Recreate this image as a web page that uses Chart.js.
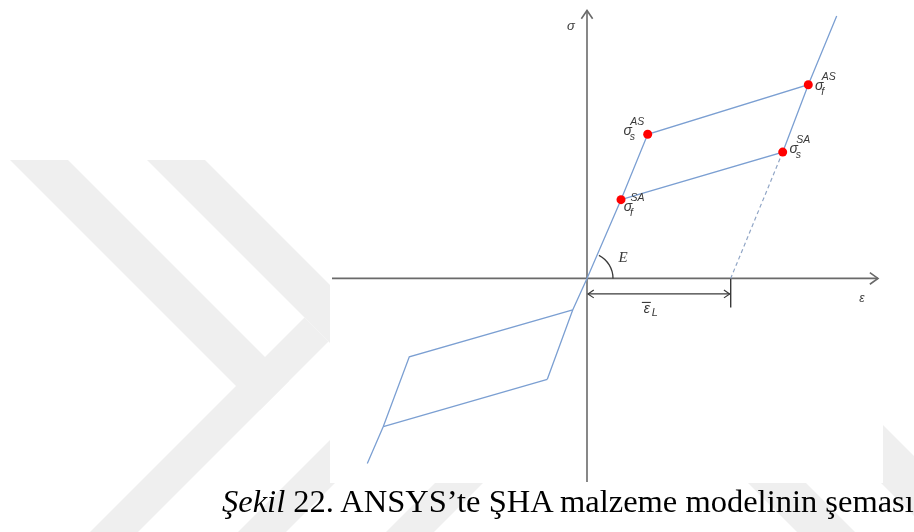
<!DOCTYPE html>
<html>
<head>
<meta charset="utf-8">
<script src="https://cdn.jsdelivr.net/npm/chart.js@4.4.1/dist/chart.umd.min.js"></script>
<style>
  html, body { margin: 0; padding: 0; background: #fff; }
  #wrap { position: relative; width: 914px; height: 532px; overflow: hidden; }
  #scheme { position: absolute; left: 0; top: 0; }
  .caption {
    position: absolute; left: 222px; top: 485px;
    font: 32.5px/32px "Liberation Serif", "Times New Roman", serif;
    color: #000; white-space: nowrap;
  }
</style>
</head>
<body>
<div id="wrap">
  <canvas id="scheme" width="914" height="532"></canvas>
  <div class="caption"><i>Şekil</i> 22. ANSYS’te ŞHA malzeme modelinin şeması</div>
</div>
<script>
// Stress-strain scheme of the SMA material model (strain, stress in arbitrary units)

// elastic branch through the origin, forward transformation plateau, elastic martensite
const loadX = [-3.97, -1.43, 0, 3.40, 6.07, 22.13, 24.97];
const loadY = [-10.18, -3.18, 0, 7.95, 14.55, 19.55, 26.48];
// reverse transformation (unloading) branch
const unloadX = [22.13, 19.57, 3.40];
const unloadY = [19.55, 12.75, 7.95];
// compression side
const compX = [-1.43, -17.77, -20.37, -21.97];
const compY = [-3.18, -7.92, -14.95, -18.68];
const compBackX = [-20.37, -3.97];
const compBackY = [-14.95, -10.18];
// unloading of the martensite down to the residual strain
const residualX = [19.57, 14.37];
const residualY = [12.75, 0];

// transformation start / finish stresses
const keyX = [3.40, 6.07, 19.57, 22.13];
const keyY = [7.95, 14.55, 12.75, 19.55];
const keySub = ['f', 's', 's', 'f'];
const keySup = ['SA', 'AS', 'SA', 'AS'];

// maximum residual (transformation) strain
const epsL = 14.37;

const xRange = [-25.7, 29.6];
const yRange = [-20.65, 27.65];

const pts = (xs, ys) => xs.map((x, i) => ({ x, y: ys[i] }));

const BLUE = '#7b9fd2';
const AXIS = '#6a6a6a';
const INK = '#3a3a3a';

// light grey chevron bands of the page watermark
const watermark = [
  [[10, 160], [68, 160], [289, 381], [260, 410]],
  [[62, 560], [110, 560], [328.5, 341.5], [304.5, 317.5]],
  [[147, 160], [205, 160], [431.5, 386.5], [402.5, 415.5]],
  [[210, 560], [258, 560], [520, 298], [472, 298]],
  [[358, 560], [406, 560], [700, 266], [652, 266]],
  [[425, 160], [483, 160], [883, 560], [825, 560]],
  [[558, 160], [618, 160], [1018, 560], [958, 560]]
];

// where each σ label sits relative to its red point
const labelOffset = [[7, 7], [-20, -3], [11, -3], [11, 1]];

function segment(ctx, x1, y1, x2, y2) {
  ctx.beginPath();
  ctx.moveTo(x1, y1);
  ctx.lineTo(x2, y2);
  ctx.stroke();
}

function openHead(ctx, x, y, dx, dy, len, spread) {
  const ang = Math.atan2(dy, dx);
  ctx.beginPath();
  ctx.moveTo(x - len * Math.cos(ang - spread), y - len * Math.sin(ang - spread));
  ctx.lineTo(x, y);
  ctx.lineTo(x - len * Math.cos(ang + spread), y - len * Math.sin(ang + spread));
  ctx.stroke();
}

const schemePlugin = {
  id: 'scheme',
  beforeDraw(chart) {
    const { ctx, chartArea: a, width, height } = chart;
    ctx.save();
    ctx.fillStyle = '#fff';
    ctx.fillRect(0, 0, width, height);
    ctx.fillStyle = '#efefef';
    watermark.forEach(poly => {
      ctx.beginPath();
      poly.forEach(([x, y], i) => (i ? ctx.lineTo(x, y) : ctx.moveTo(x, y)));
      ctx.closePath();
      ctx.fill();
    });
    // the figure itself is on a white sheet
    ctx.fillStyle = '#fff';
    ctx.fillRect(a.left, a.top, a.right - a.left, a.bottom - a.top);
    ctx.restore();
  },
  beforeDatasetsDraw(chart) {
    const { ctx, chartArea: a } = chart;
    const xs = chart.scales.x, ys = chart.scales.y;
    const ox = xs.getPixelForValue(0), oy = ys.getPixelForValue(0);
    ctx.save();
    ctx.strokeStyle = AXIS;
    ctx.lineWidth = 1.6;
    // axes with open arrow heads
    segment(ctx, a.left + 2, oy, a.right - 5, oy);
    openHead(ctx, a.right - 5, oy, 1, 0, 10, 0.62);
    segment(ctx, ox, a.bottom - 1, ox, a.top + 6);
    openHead(ctx, ox, a.top + 6, 0, -1, 10, 0.6);

    // modulus arc
    ctx.strokeStyle = INK;
    ctx.lineWidth = 1.3;
    ctx.beginPath();
    ctx.arc(ox, oy, 26, -62.7 * Math.PI / 180, 0);
    ctx.stroke();

    // residual strain dimension
    const ex = xs.getPixelForValue(epsL);
    ctx.lineWidth = 1.4;
    segment(ctx, ex, oy, ex, oy + 29);
    ctx.lineWidth = 1.2;
    const dy = oy + 15.5;
    segment(ctx, ox + 1, dy, ex - 1, dy);
    openHead(ctx, ox + 1, dy, -1, 0, 7, 0.6);
    openHead(ctx, ex - 1, dy, 1, 0, 7, 0.6);
    ctx.restore();
  },
  afterDatasetsDraw(chart) {
    const { ctx, chartArea: a } = chart;
    const xs = chart.scales.x, ys = chart.scales.y;
    const ox = xs.getPixelForValue(0), oy = ys.getPixelForValue(0);
    ctx.save();
    ctx.fillStyle = INK;
    ctx.textBaseline = 'middle';
    ctx.textAlign = 'center';

    ctx.font = 'italic 13px "Liberation Sans", sans-serif';
    ctx.fillText('σ', ox - 16, a.top + 22);
    ctx.font = 'italic 12px "Liberation Sans", sans-serif';
    ctx.fillText('ε', a.right - 21, oy + 20);

    ctx.font = 'italic 15px "Liberation Serif", serif';
    ctx.fillText('E', ox + 36, oy - 20);

    // ε̄L under the dimension line
    const mid = (ox + xs.getPixelForValue(epsL)) / 2;
    ctx.font = 'italic 14px "Liberation Sans", sans-serif';
    ctx.fillText('ε', mid - 12, oy + 31);
    ctx.font = 'italic 11px "Liberation Sans", sans-serif';
    ctx.textAlign = 'left';
    ctx.fillText('L', mid - 7, oy + 35);
    ctx.lineWidth = 1.1;
    ctx.strokeStyle = INK;
    segment(ctx, mid - 17, oy + 24, mid - 8, oy + 24);

    // σ with transformation sub/superscripts
    keyX.forEach((x, i) => {
      const px = xs.getPixelForValue(x) + labelOffset[i][0];
      const py = ys.getPixelForValue(keyY[i]) + labelOffset[i][1];
      ctx.textAlign = 'center';
      ctx.font = 'italic 14px "Liberation Sans", sans-serif';
      ctx.fillText('σ', px, py);
      ctx.textAlign = 'left';
      ctx.font = 'italic 10.5px "Liberation Sans", sans-serif';
      ctx.fillText(keySup[i], px + 2.5, py - 9);
      ctx.fillText(keySub[i], px + 2, py + 6);
    });
    ctx.restore();
  }
};

const line = (data, extra) => Object.assign({
  data,
  showLine: true,
  borderColor: BLUE,
  borderWidth: 1.3,
  pointRadius: 0,
  tension: 0
}, extra);

new Chart(document.getElementById('scheme'), {
  type: 'scatter',
  data: {
    datasets: [
      // red points first so they sit on top of the curves
      {
        data: pts(keyX, keyY),
        showLine: false,
        pointRadius: 4.5,
        pointBackgroundColor: '#ff0000',
        pointBorderColor: '#ff0000',
        pointBorderWidth: 0
      },
      line(pts(loadX, loadY)),
      line(pts(unloadX, unloadY)),
      line(pts(compX, compY)),
      line(pts(compBackX, compBackY)),
      line(pts(residualX, residualY), { borderColor: '#91a6c6', borderWidth: 1.2, borderDash: [4, 3] })
    ]
  },
  options: {
    responsive: false,
    animation: false,
    events: [],
    layout: { padding: { left: 330, right: 31, top: 0, bottom: 49 } },
    plugins: { legend: { display: false }, tooltip: { enabled: false } },
    scales: {
      x: { type: 'linear', min: xRange[0], max: xRange[1], display: false },
      y: { type: 'linear', min: yRange[0], max: yRange[1], display: false }
    }
  },
  plugins: [schemePlugin]
});
</script>
</body>
</html>
